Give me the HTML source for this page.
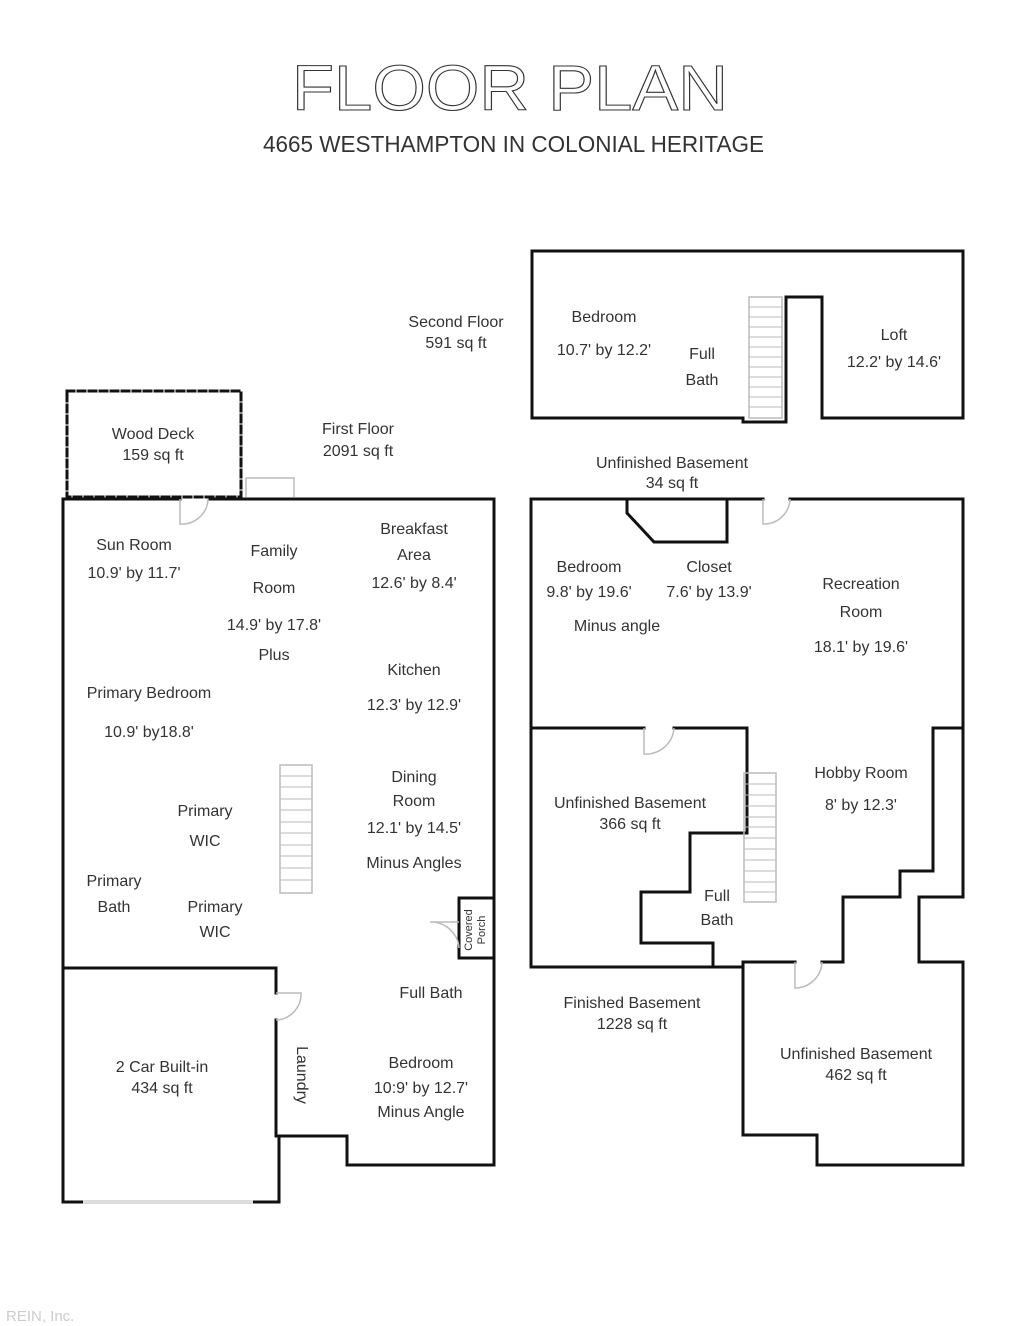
<!DOCTYPE html>
<html><head><meta charset="utf-8"><style>
html,body{margin:0;padding:0;background:#fff;}
svg{display:block;}
text{font-family:"Liberation Sans",sans-serif;fill:#333;}
</style></head><body>
<svg width="1024" height="1326" viewBox="0 0 1024 1326" xmlns="http://www.w3.org/2000/svg">
<rect width="1024" height="1326" fill="#fff"/>
<text x="292" y="110" font-size="64" textLength="436" lengthAdjust="spacingAndGlyphs" style="fill:#fff;stroke:#333;stroke-width:1.1">FLOOR PLAN</text>
<text x="263" y="152" font-size="23" textLength="501" lengthAdjust="spacingAndGlyphs">4665 WESTHAMPTON IN COLONIAL HERITAGE</text>

<g fill="none" stroke="#111" stroke-width="3" stroke-linecap="square">
<polyline points="743,418 532,418 532,251 963,251 963,418 822,418 822,297 786,297 786,422 743,422 743,418"/>
<rect x="67" y="391" width="174" height="106" stroke-dasharray="7,4"/>
<polyline points="180,499 63,499 63,1202 83,1202"/>
<line x1="210" y1="499" x2="494" y2="499"/>
<polyline points="494,499 494,1165 347,1165 347,1136 276,1136 276,1020"/>
<polyline points="276,993 276,968 63,968"/>
<polyline points="279,1136 279,1202 253,1202"/>
<polyline points="494,898 459,898 459,958 494,958"/>
<polyline points="763,499 531,499 531,967 743,967"/>
<polyline points="790,499 963,499 963,897 919,897 919,962 963,962 963,1165 817,1165 817,1135 743,1135 743,962 795,962"/>
<polyline points="822,962 843,962 843,897 900,897 900,871 933,871 933,728 963,728"/>
<polyline points="627,499 627,513 654,542 727,542 727,499"/>
<polyline points="531,728 644,728"/>
<polyline points="674,728 747,728 747,833 690,833 690,892 641,892 641,943 713,943 713,967"/>
</g>
<g fill="none" stroke="#bbb" stroke-width="1.5">
<line x1="83" y1="1202" x2="253" y2="1202" stroke-width="4" stroke="#ddd"/>
<polyline points="246,497 246,478 294,478 294,497"/>
<path d="M180 499 L180 524 A26 26 0 0 0 208 499"/>
<path d="M276 993 L301 993 A26 26 0 0 1 276 1020"/>
<path d="M459 922 L430 922 A28 28 0 0 1 459 948" />
<path d="M763 499 L763 524 A26 26 0 0 0 790 499"/>
<path d="M644 728 L644 754 A28 28 0 0 0 674 728"/>
<path d="M795 962 L795 988 A27 27 0 0 0 822 962"/>
<rect x="280" y="765" width="32" height="128"/>
<rect x="749" y="297" width="33" height="121"/>
<rect x="744" y="773" width="32" height="129"/>
</g>
<g stroke="#bbb" stroke-width="1">
<path d="M280 776h32M280 787h32M280 799h32M280 810h32M280 822h32M280 833h32M280 845h32M280 856h32M280 868h32M280 880h32"/>
<path d="M749 307h33M749 317h33M749 327h33M749 337h33M749 347h33M749 357h33M749 367h33M749 377h33M749 387h33M749 397h33M749 407h33"/>
<path d="M744 784h32M744 795h32M744 806h32M744 817h32M744 827h32M744 838h32M744 849h32M744 860h32M744 871h32M744 882h32M744 892h32"/>
</g>

<g font-size="16" text-anchor="middle">
<text x="456" y="327">Second Floor</text><text x="456" y="348">591 sq ft</text>
<text x="604" y="322">Bedroom</text><text x="604" y="355">10.7' by 12.2'</text>
<text x="702" y="359">Full</text><text x="702" y="385">Bath</text>
<text x="894" y="340">Loft</text><text x="894" y="367">12.2' by 14.6'</text>
<text x="153" y="439">Wood Deck</text><text x="153" y="460">159 sq ft</text>
<text x="358" y="434">First Floor</text><text x="358" y="456">2091 sq ft</text>
<text x="672" y="468">Unfinished Basement</text><text x="672" y="488">34 sq ft</text>
<text x="134" y="550">Sun Room</text><text x="134" y="578">10.9' by 11.7'</text>
<text x="274" y="556">Family</text><text x="274" y="593">Room</text>
<text x="274" y="630">14.9' by 17.8'</text><text x="274" y="660">Plus</text>
<text x="414" y="534">Breakfast</text><text x="414" y="560">Area</text><text x="414" y="588">12.6' by 8.4'</text>
<text x="414" y="675">Kitchen</text><text x="414" y="710">12.3' by 12.9'</text>
<text x="149" y="698">Primary Bedroom</text><text x="149" y="737">10.9' by18.8'</text>
<text x="414" y="782">Dining</text><text x="414" y="806">Room</text>
<text x="414" y="833">12.1' by 14.5'</text><text x="414" y="868">Minus Angles</text>
<text x="205" y="816">Primary</text><text x="205" y="846">WIC</text>
<text x="114" y="886">Primary</text><text x="114" y="912">Bath</text>
<text x="215" y="912">Primary</text><text x="215" y="937">WIC</text>
<text x="431" y="998">Full Bath</text>
<text x="162" y="1072">2 Car Built-in</text><text x="162" y="1093">434 sq ft</text>
<text x="421" y="1068">Bedroom</text><text x="421" y="1093">10:9' by 12.7'</text><text x="421" y="1117">Minus Angle</text>
<text x="589" y="572">Bedroom</text><text x="589" y="597">9.8' by 19.6'</text>
<text x="617" y="631">Minus angle</text>
<text x="709" y="572">Closet</text><text x="709" y="597">7.6' by 13.9'</text>
<text x="861" y="589">Recreation</text><text x="861" y="617">Room</text><text x="861" y="652">18.1' by 19.6'</text>
<text x="861" y="778">Hobby Room</text><text x="861" y="810">8' by 12.3'</text>
<text x="630" y="808">Unfinished Basement</text><text x="630" y="829">366 sq ft</text>
<text x="717" y="901">Full</text><text x="717" y="925">Bath</text>
<text x="632" y="1008">Finished Basement</text><text x="632" y="1029">1228 sq ft</text>
<text x="856" y="1059">Unfinished Basement</text><text x="856" y="1080">462 sq ft</text>
</g>
<text transform="translate(297,1075) rotate(90)" font-size="16" text-anchor="middle">Laundry</text>
<text transform="translate(472,930) rotate(-90)" font-size="11" text-anchor="middle">Covered</text>
<text transform="translate(485,930) rotate(-90)" font-size="11" text-anchor="middle">Porch</text>
<text x="6" y="1321" font-size="15" style="fill:#ccc">REIN, Inc.</text>
</svg>
</body></html>
